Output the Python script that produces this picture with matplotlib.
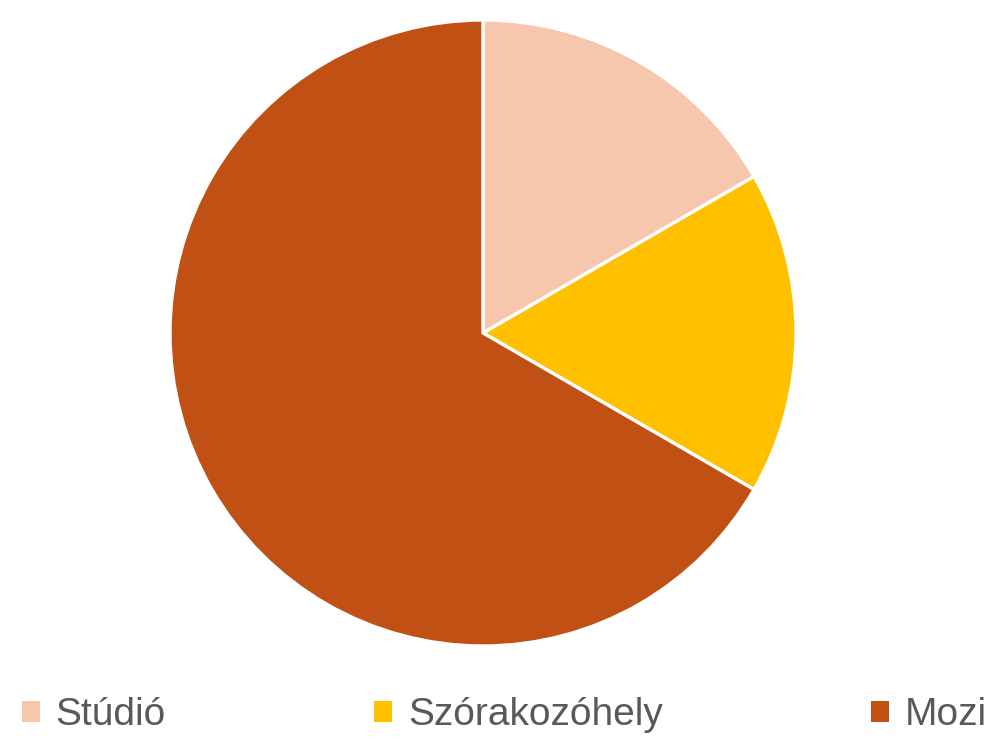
import matplotlib.pyplot as plt
from matplotlib.patches import Patch

# adatok
labels = ['Stúdió', 'Szórakozóhely', 'Mozi']
values = [1, 1, 4]
colors = ['#F6C7AD', '#FFC000', '#C05014']

plt.rcParams['font.family'] = ['Liberation Sans', 'DejaVu Sans']

fig = plt.figure(figsize=(9.9, 7.43), dpi=100)
ax = fig.add_axes([170 / 990, 97 / 743, 626 / 990, 626 / 743])

ax.pie(values, colors=colors, startangle=90, counterclock=False,
       wedgeprops=dict(edgecolor='white', linewidth=2.4))
ax.set_xlim(-1.0, 1.0)
ax.set_ylim(-1.0, 1.0)
ax.set_aspect('equal')

handles = [Patch(facecolor=c, edgecolor='none', label=l) for c, l in zip(colors, labels)]
fig.legend(handles=handles, loc='center', bbox_to_anchor=(504.5 / 990, 1 - 715 / 743),
           ncol=3, frameon=False, fontsize=28, handlelength=0.46, handleheight=0.46,
           handletextpad=0.41, columnspacing=5.36, labelcolor='#595959')

fig.savefig('out.png', dpi=100)
